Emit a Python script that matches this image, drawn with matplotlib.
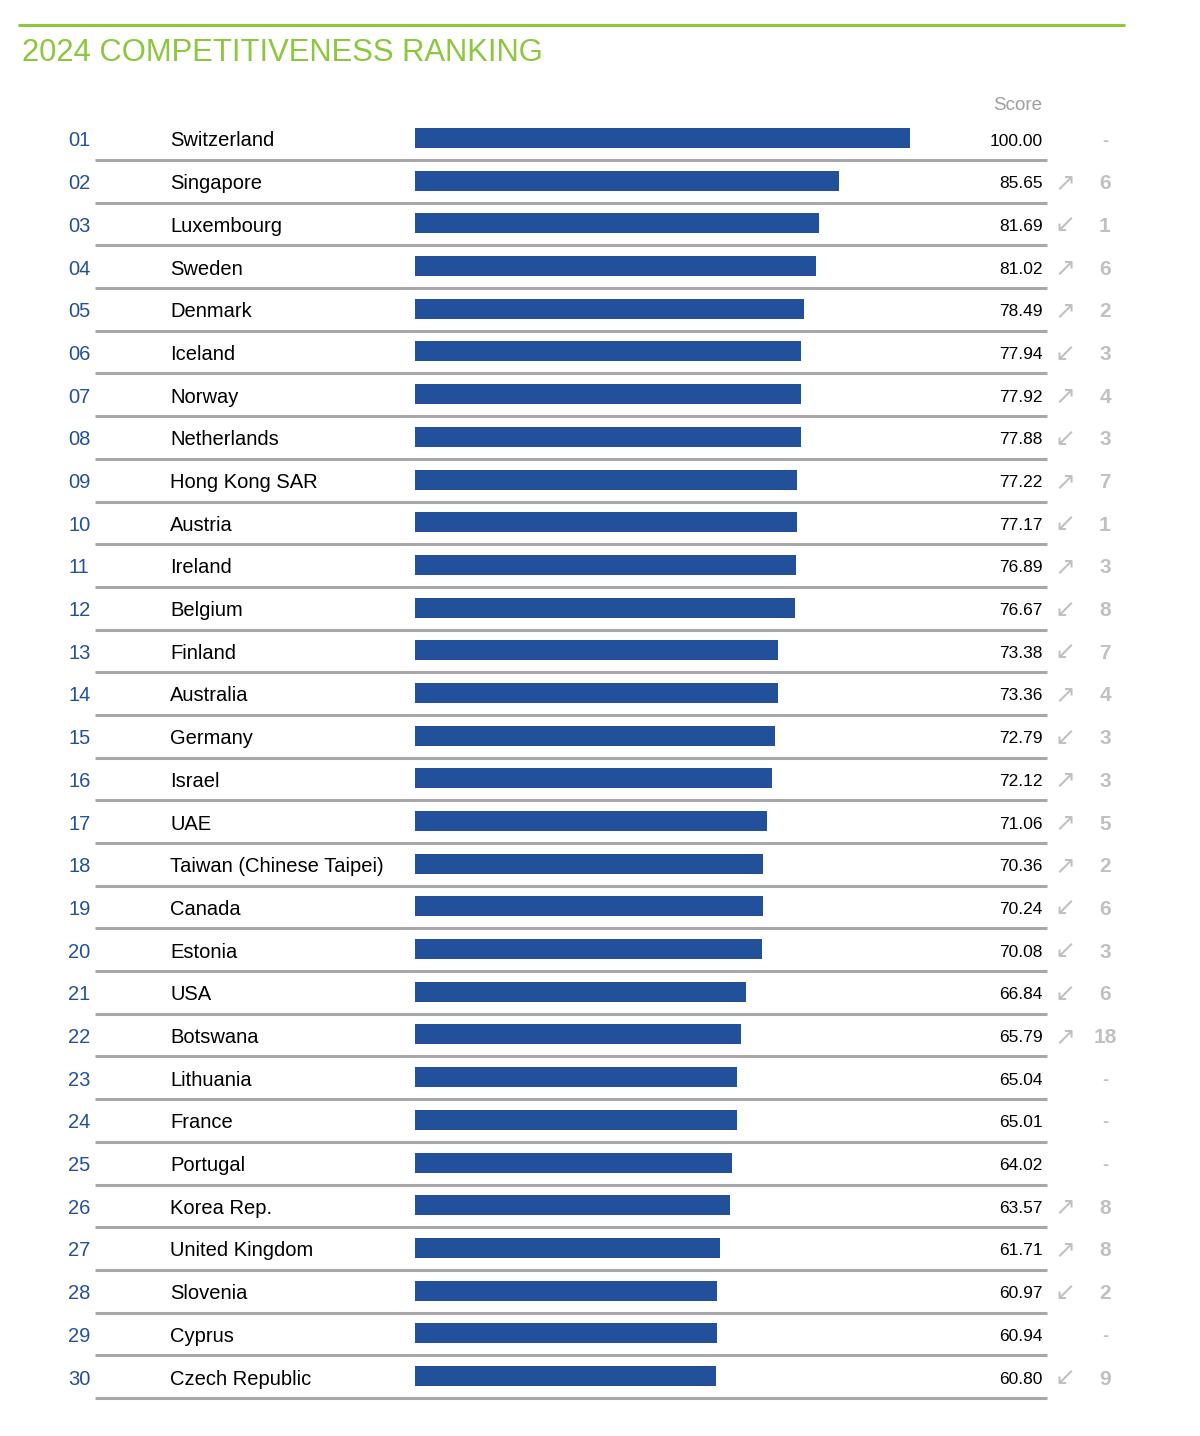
import numpy as np
import matplotlib.pyplot as plt

ranks = ['01', '02', '03', '04', '05', '06', '07', '08', '09', '10',
         '11', '12', '13', '14', '15', '16', '17', '18', '19', '20',
         '21', '22', '23', '24', '25', '26', '27', '28', '29', '30']
countries = ['Switzerland', 'Singapore', 'Luxembourg', 'Sweden', 'Denmark',
             'Iceland', 'Norway', 'Netherlands', 'Hong Kong SAR', 'Austria',
             'Ireland', 'Belgium', 'Finland', 'Australia', 'Germany',
             'Israel', 'UAE', 'Taiwan (Chinese Taipei)', 'Canada', 'Estonia',
             'USA', 'Botswana', 'Lithuania', 'France', 'Portugal',
             'Korea Rep.', 'United Kingdom', 'Slovenia', 'Cyprus', 'Czech Republic']
scores = [100.00, 85.65, 81.69, 81.02, 78.49, 77.94, 77.92, 77.88, 77.22, 77.17,
          76.89, 76.67, 73.38, 73.36, 72.79, 72.12, 71.06, 70.36, 70.24, 70.08,
          66.84, 65.79, 65.04, 65.01, 64.02, 63.57, 61.71, 60.97, 60.94, 60.80]
# positive = moved up, negative = moved down, 0 = no change
changes = [0, 6, -1, 6, 2, -3, 4, -3, 7, -1,
           3, -8, -7, 4, -3, 3, 5, 2, -6, -3,
           -6, 18, 0, 0, 0, 8, 8, -2, 0, -9]

W, H = 1200, 1436
blue = '#23509b'
green = '#8dc63f'
grey = '#c0c0c0'
line_grey = '#a8a8a8'
fam = ['Liberation Sans', 'DejaVu Sans']

fig = plt.figure(figsize=(W / 100, H / 100), dpi=100)
ax = fig.add_axes([0, 0, 1, 1])
ax.set_xlim(0, W)
ax.set_ylim(H, 0)
ax.axis('off')

y0, pitch = 139, 42.69
ys = y0 + pitch * np.arange(len(scores))
bar_left, px_per_pt = 415, 4.95

ax.plot([18, 1125], [25, 25], color=green, lw=2.2, solid_capstyle='butt')
ax.text(22, 53, '2024 COMPETITIVENESS RANKING', color=green, fontsize=22.3,
        family=fam, va='center', ha='left')
ax.text(1042, 106, 'Score', color='#a0a0a0', fontsize=13.5, family=fam,
        va='center', ha='right')

ax.barh(ys - 1, np.array(scores) * px_per_pt, left=bar_left, height=20,
        color=blue, edgecolor='none')

for y, r, c, s, ch in zip(ys, ranks, countries, scores, changes):
    ty = y + 2
    ax.text(68, ty, r, color=blue, fontsize=14.5, family=fam, va='center')
    ax.text(170, ty, c, color='black', fontsize=14.5, family=fam, va='center')
    ax.text(1043, ty, f'{s:.2f}', color='black', fontsize=12.5, family=fam,
            va='center', ha='right')
    if ch == 0:
        ax.text(1105, ty, '-', color=grey, fontsize=13, family=fam,
                weight='bold', va='center', ha='center')
    else:
        arrow = '\u2197' if ch > 0 else '\u2199'
        ax.text(1065, ty, arrow, color=grey, fontsize=18, family='DejaVu Sans',
                va='center', ha='center')
        ax.text(1105, ty, str(abs(ch)), color=grey, fontsize=15, family=fam,
                weight='bold', va='center', ha='center')
    ax.plot([95, 1047], [y + 21, y + 21], color=line_grey, lw=2.2,
            solid_capstyle='butt')

fig.savefig('out.png', dpi=100, facecolor='white')
